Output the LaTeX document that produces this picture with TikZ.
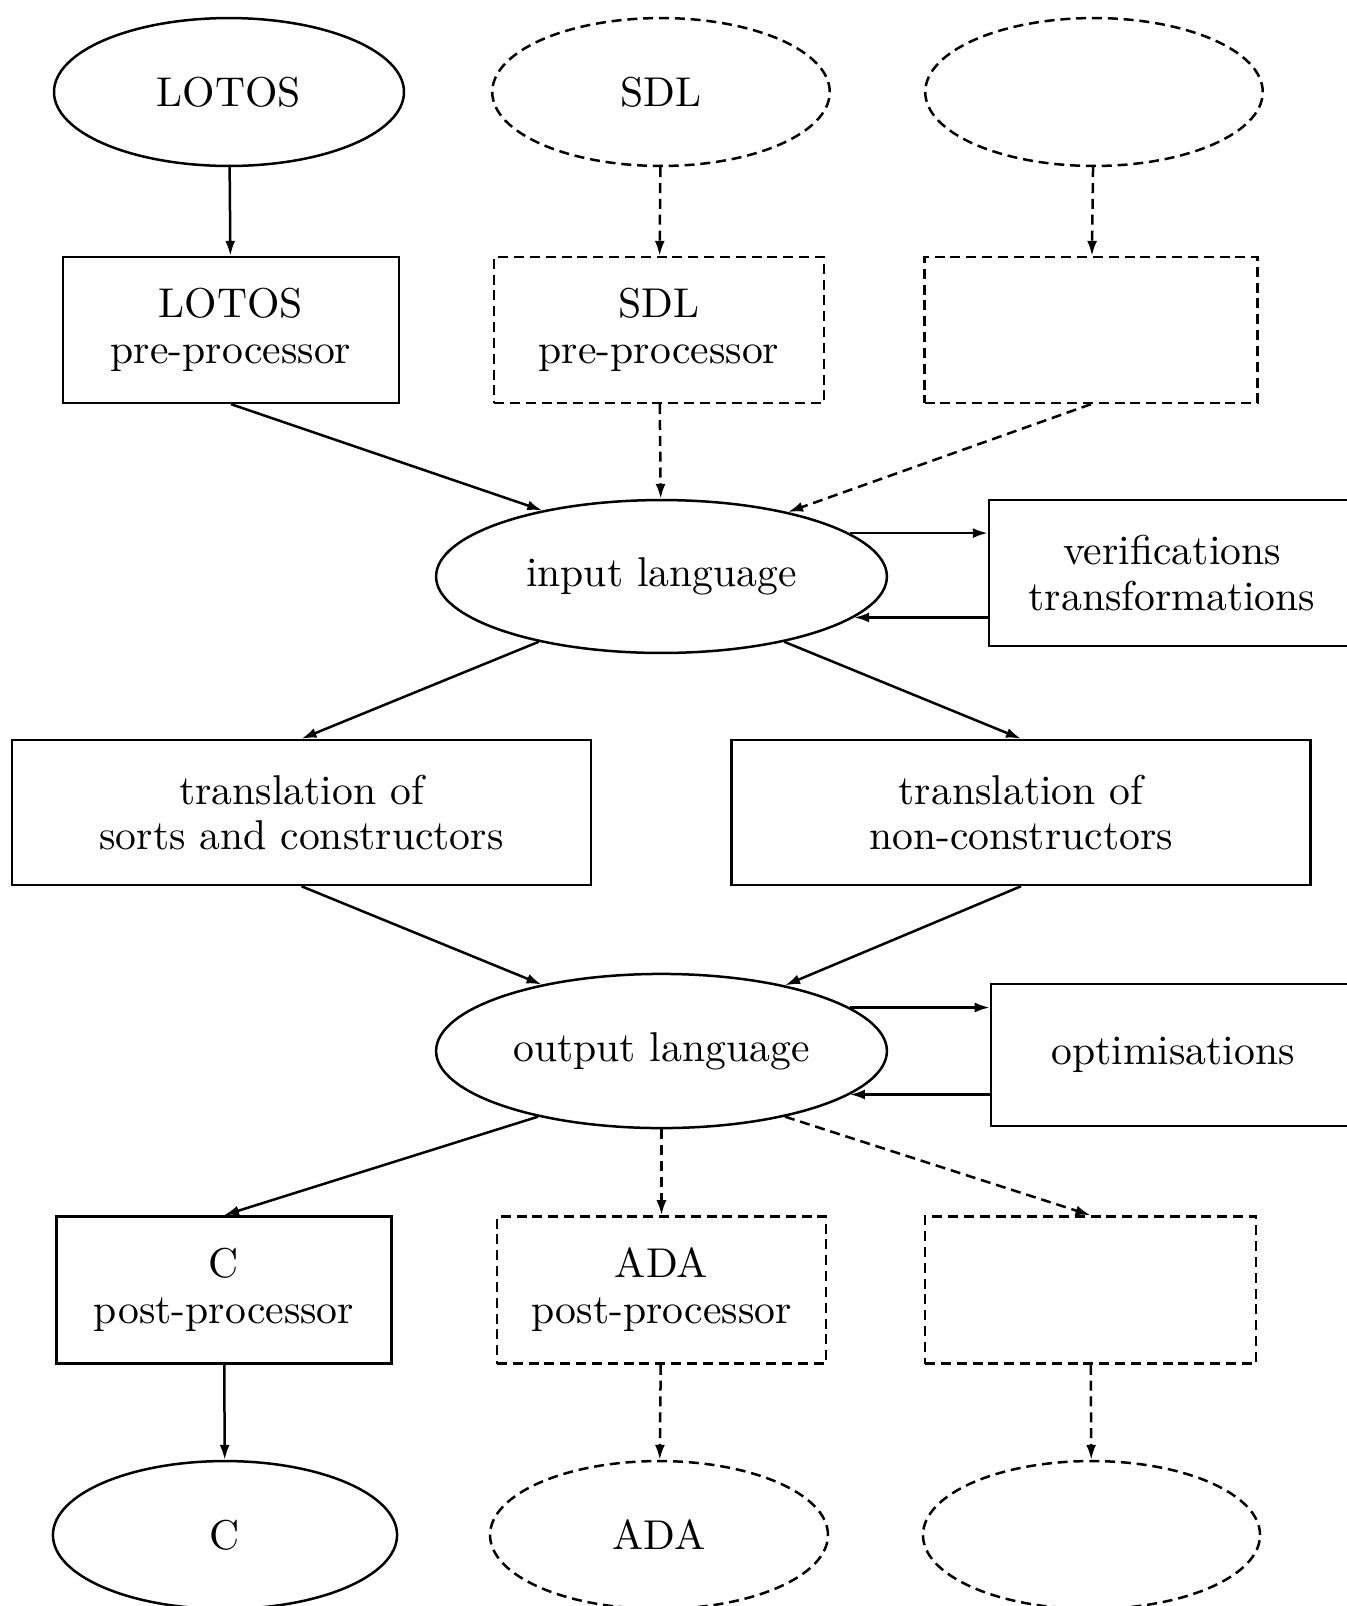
\documentclass[tikz,border=0pt]{standalone}
\usetikzlibrary{shapes.geometric,arrows.meta}
\begin{document}
\begin{tikzpicture}[x=0.24pt,y=-0.24pt,>={Latex[length=3.6pt,width=2.4pt]},
    lang/.style={draw,ellipse,line width=0.6pt,inner sep=0pt,minimum height=35.5pt},
    proc/.style={draw,line width=0.6pt,align=center,inner sep=0pt,minimum height=35pt,font=\fontsize{10}{11}\selectfont},
    planned/.style={dash pattern=on 2.4pt off 1.4pt},
    flow/.style={->,line width=0.6pt}]
  \useasboundingbox (0,0) rectangle (1347,1606);
  % source languages
  \node[lang,minimum width=84pt] (lotos) at (229,92) {LOTOS};
  \node[lang,planned,minimum width=81pt] (sdl) at (661,92) {SDL};
  \node[lang,planned,minimum width=81pt] (srcx) at (1094,92) {};
  \node[proc,minimum width=80.6pt] (lotospre) at (231,330) {LOTOS\\pre-processor};
  \node[proc,planned,minimum width=79.2pt] (sdlpre) at (659,330) {SDL\\pre-processor};
  \node[proc,planned,minimum width=79.9pt] (srcxpre) at (1091,330) {};
  % common part
  \node[lang,minimum width=108.2pt,minimum height=36.7pt] (input) at (661.5,576.5) {input language};
  \node[proc,minimum width=87.8pt] (verif) at (1172,573) {verifications\\transformations};
  \node[proc,minimum width=139pt,minimum height=34.8pt] (sorts) at (301.5,812.5) {translation of\\sorts and constructors};
  \node[proc,minimum width=139pt,minimum height=34.8pt] (nonc) at (1021,812.5) {translation of\\non-constructors};
  \node[lang,minimum width=108.2pt,minimum height=37pt] (output) at (661.5,1051) {output language};
  \node[proc,minimum width=87.4pt,minimum height=34.1pt] (optim) at (1173,1055) {optimisations};
  % target languages
  \node[proc,minimum width=80.4pt,minimum height=35.3pt] (cpost) at (224,1290) {C\\post-processor};
  \node[proc,planned,minimum width=79pt,minimum height=35.3pt] (adapost) at (661.5,1290) {ADA\\post-processor};
  \node[proc,planned,minimum width=79.4pt,minimum height=35.3pt] (tgtxpost) at (1090.5,1290) {};
  \node[lang,minimum width=82.6pt] (c) at (225,1535) {C};
  \node[lang,planned,minimum width=81.1pt] (ada) at (659,1535) {ADA};
  \node[lang,planned,minimum width=80.9pt] (tgtx) at (1091.5,1535) {};
  % connectors
  \draw[flow] (lotos) -- (lotospre);
  \draw[flow,planned] (sdl) -- (sdlpre);
  \draw[flow,planned] (srcx) -- (srcxpre);
  \draw[flow] (lotospre.south) -- (input.151);
  \draw[flow,planned] (sdlpre) -- (input);
  \draw[flow,planned] (srcxpre.south) -- (input.27);
  \draw[flow] (input.13) -- (input.13 -| verif.west);
  \draw[flow] (verif.west |- input.-12) -- (input.-12);
  \draw[flow] (input.208) -- (sorts.north);
  \draw[flow] (input.-28) -- (nonc.north);
  \draw[flow] (sorts.south) -- (output.151);
  \draw[flow] (nonc.south) -- (output.28);
  \draw[flow] (output.13) -- (output.13 -| optim.west);
  \draw[flow] (optim.west |- output.-13) -- (output.-13);
  \draw[flow] (output.208) -- (cpost.north);
  \draw[flow,planned] (output) -- (adapost);
  \draw[flow,planned] (output.-28) -- (tgtxpost.north);
  \draw[flow] (cpost) -- (c);
  \draw[flow,planned] (adapost) -- (ada);
  \draw[flow,planned] (tgtxpost) -- (tgtx);
\end{tikzpicture}
\end{document}
